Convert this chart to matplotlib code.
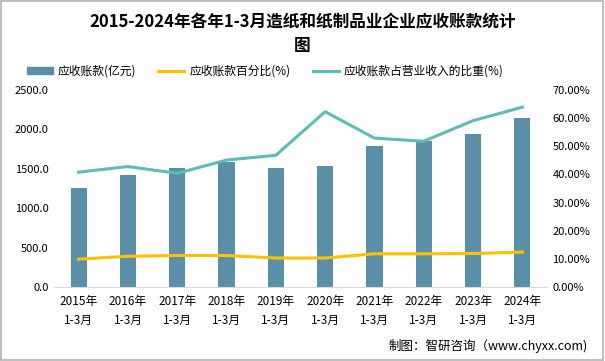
import matplotlib.pyplot as plt
from matplotlib.patches import Rectangle
from matplotlib.lines import Line2D
from matplotlib.ticker import FuncFormatter

plt.rcParams['font.family'] = ['Noto Sans CJK SC', 'DejaVu Sans']

years = ["2015年\n1-3月", "2016年\n1-3月", "2017年\n1-3月", "2018年\n1-3月", "2019年\n1-3月",
         "2020年\n1-3月", "2021年\n1-3月", "2022年\n1-3月", "2023年\n1-3月", "2024年\n1-3月"]
receivables = [1258, 1423, 1512, 1592, 1512, 1537, 1790, 1854, 1942, 2145]
pct_change = [9.9, 10.9, 11.2, 11.2, 10.3, 10.3, 11.8, 11.8, 11.9, 12.4]
share_revenue = [40.8, 42.8, 40.4, 45.1, 46.8, 62.3, 52.9, 51.8, 59.1, 63.9]

bar_color = "#5B8FA7"
yellow = "#FFC000"
green = "#5BBDB5"

fig = plt.figure(figsize=(6.05, 3.61), dpi=100)
ax = fig.add_axes([54 / 605, 1 - 287 / 361, (547 - 54) / 605, (287 - 90) / 361])
ax2 = ax.twinx()

x = list(range(len(years)))
ax.bar(x, receivables, width=0.33, color=bar_color, zorder=2)
ax2.plot(x, pct_change, color=yellow, linewidth=2.2)
ax2.plot(x, share_revenue, color=green, linewidth=2.2)

ax.set_xlim(-0.5, 9.5)
ax.set_ylim(0, 2500)
ax2.set_ylim(0, 70)
ax.set_yticks([0, 500, 1000, 1500, 2000, 2500])
ax2.set_yticks([0, 10, 20, 30, 40, 50, 60, 70])
ax.yaxis.set_major_formatter(FuncFormatter(lambda v, p: f"{v:.1f}"))
ax2.yaxis.set_major_formatter(FuncFormatter(lambda v, p: f"{v:.2f}%"))
ax.set_xticks(x)
ax.set_xticklabels(years, fontsize=8.5, linespacing=1.6)

for a in (ax, ax2):
    for s in a.spines.values():
        s.set_visible(False)
    a.tick_params(axis="y", length=0, labelsize=8, pad=4)
ax.spines["bottom"].set_visible(True)
ax.spines["bottom"].set_color("#D9D9D9")
ax.tick_params(axis="x", length=0, pad=6)

fig.text(0.5, 1 - 22 / 361, "2015-2024年各年1-3月造纸和纸制品业企业应收账款统计",
         ha="center", va="center", fontsize=12, fontweight="bold")
fig.text(0.5, 1 - 46 / 361, "图", ha="center", va="center", fontsize=12, fontweight="bold")

handles = [Rectangle((0, 0), 1, 1, color=bar_color),
           Line2D([0], [0], color=yellow, linewidth=2.2),
           Line2D([0], [0], color=green, linewidth=2.2)]
labels = ["应收账款(亿元)", "应收账款百分比(%)", "应收账款占营业收入的比重(%)"]
fig.legend(handles, labels, loc="center", bbox_to_anchor=(265 / 605, 1 - 71 / 361), ncol=3,
           frameon=False, fontsize=8.5, handlelength=2.2, handleheight=0.5,
           columnspacing=1.9, handletextpad=0.4)

fig.text(588 / 605, 1 - 346 / 361, "制图：智研咨询（www.chyxx.com)", ha="right", va="center",
         fontsize=9)

fig.patches.append(Rectangle((0.002, 0.003), 0.995, 0.994, transform=fig.transFigure,
                             fill=False, edgecolor="#BFBFBF", linewidth=1.5))

fig.savefig("out.png", dpi=100)
